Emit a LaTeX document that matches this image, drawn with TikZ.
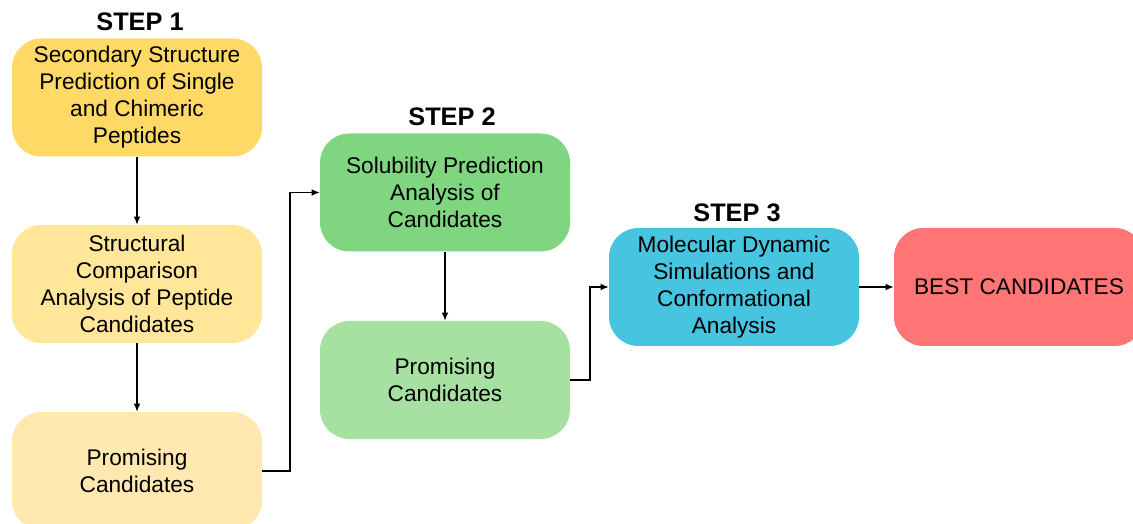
\documentclass[tikz,border=0pt]{standalone}
\usepackage{fontspec}
\setmainfont{Liberation Sans}
\usetikzlibrary{arrows.meta}

\definecolor{gold}{HTML}{FFD966}
\definecolor{goldlight}{HTML}{FFE699}
\definecolor{goldpale}{HTML}{FFE9B0}
\definecolor{greenmid}{HTML}{80D680}
\definecolor{greenpale}{HTML}{A6E1A2}
\definecolor{cyanbox}{HTML}{47C4E0}
\definecolor{redbox}{HTML}{FF7474}

\begin{document}
\begin{tikzpicture}[x=0.75pt, y=-0.75pt,
        box/.style={rounded corners=22pt, minimum width=187.5pt,
                minimum height=88.5pt, align=center, inner sep=2pt,
                font=\fontsize{17}{20.25}\selectfont},
        steplabel/.style={font=\fontsize{19}{22}\selectfont\bfseries},
        link/.style={-{Latex[length=6pt,width=5pt]}, line width=1pt}]
    \useasboundingbox (0,0) rectangle (1133,524);
    \clip (0,0) rectangle (1133,524);

    \node[box, fill=gold] (s1) at (137, 97.5) {Secondary Structure\\Prediction of Single\\and Chimeric\\Peptides};
    \node[box, fill=goldlight] (c1) at (137, 284) {Structural\\Comparison\\Analysis of Peptide\\Candidates};
    \node[box, fill=goldpale] (p1) at (137, 471) {Promising\\Candidates};

    \node[box, fill=greenmid] (s2) at (445, 192.5) {Solubility Prediction\\Analysis of\\Candidates};
    \node[box, fill=greenpale] (p2) at (445, 380) {Promising\\Candidates};

    \node[box, fill=cyanbox] (s3) at (734, 287) {Molecular Dynamic\\Simulations and\\Conformational\\Analysis};
    \node[box, fill=redbox] (best) at (1019, 287) {BEST CANDIDATES};

    \node[steplabel] (t1) at (140, 22) {STEP 1};
    \node[steplabel] (t2) at (452, 117) {STEP 2};
    \node[steplabel] (t3) at (737, 213) {STEP 3};

    \foreach \i/\j in {s1/c1, c1/p1, s2/p2} {
            \draw[link] (\i) -- (\j);
        }
    \draw[link] (p1.east) -- (290, 471) |- (s2.west);
    \draw[link] (p2.east) -- (590, 380) |- (s3.west);
    \draw[link] (s3) -- (best);
\end{tikzpicture}
\end{document}
